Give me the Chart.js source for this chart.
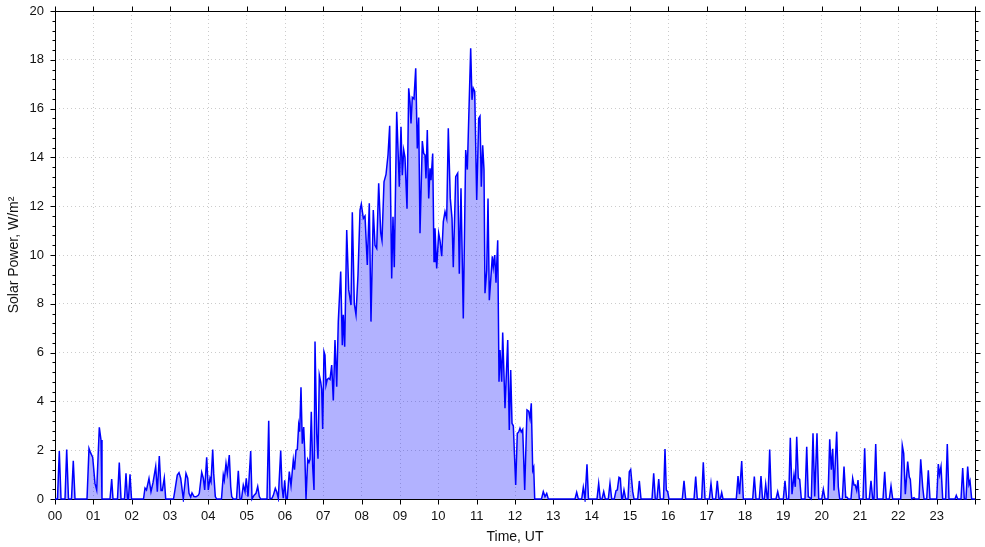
<!DOCTYPE html>
<html>
<head>
<meta charset="utf-8">
<script src="https://cdn.jsdelivr.net/npm/chart.js@4.4.1/dist/chart.umd.min.js"></script>
<style>
html,body{margin:0;padding:0;background:#fff;}
#wrap{width:985px;height:547px;position:relative;}
</style>
</head>
<body>
<div id="wrap"><canvas id="c" width="985" height="547"></canvas></div>
<script>
const hourLabels = ["00","01","02","03","04","05","06","07","08","09","10","11","12","13","14","15","16","17","18","19","20","21","22","23",""];
const yTickValues = [0,2,4,6,8,10,12,14,16,18,20];

const timeHours = [
0.000,0.065,0.112,0.157,0.261,0.305,0.352,0.430,0.477,0.522,0.835,0.887,0.926,0.983,1.043,1.088,1.156,1.200,1.226,
1.435,1.479,1.513,1.630,1.677,1.722,1.813,1.852,1.891,1.917,1.957,1.996,
2.309,2.348,2.387,2.452,2.504,2.557,2.627,2.669,2.721,2.765,2.799,2.851,2.888,
3.091,3.130,3.190,3.235,3.279,3.347,3.417,3.462,3.496,3.540,3.574,3.626,3.678,3.738,3.764,3.827,3.869,3.905,3.957,3.999,
4.043,4.070,4.114,4.140,4.182,4.218,4.343,4.390,4.416,4.461,4.495,4.547,4.584,4.610,4.651,4.735,4.782,4.826,4.865,4.912,4.957,4.990,
5.035,5.105,5.139,5.191,5.243,5.288,5.330,5.366,5.530,5.575,5.609,5.661,5.695,5.747,5.783,5.825,5.888,5.922,5.956,5.992,
6.026,6.060,6.112,6.157,6.217,6.248,6.287,6.321,6.357,6.383,6.417,6.451,6.488,6.514,6.548,6.592,6.626,6.652,6.686,6.723,6.757,6.783,6.827,6.861,6.895,6.931,6.957,6.983,
7.017,7.043,7.070,7.103,7.140,7.174,7.218,7.260,7.304,7.349,7.390,7.453,7.495,7.521,7.557,7.610,7.662,7.722,7.756,7.808,7.852,7.904,7.957,7.991,
8.043,8.087,8.147,8.199,8.243,8.303,8.348,8.392,8.444,8.497,8.530,8.583,8.635,8.687,8.731,8.783,8.817,8.851,8.914,8.982,
9.026,9.060,9.097,9.130,9.183,9.227,9.261,9.287,9.321,9.365,9.410,9.451,9.488,9.522,9.582,9.618,9.652,9.678,9.712,9.749,9.783,9.809,9.853,9.887,9.913,9.957,
10.009,10.043,10.088,10.130,10.174,10.218,10.260,10.312,10.357,10.390,10.453,10.505,10.547,10.591,10.651,10.714,10.756,10.844,10.878,10.912,10.949,
11.001,11.053,11.087,11.121,11.157,11.191,11.217,11.262,11.296,11.330,11.366,11.408,11.434,11.471,11.504,11.549,11.583,11.609,11.653,11.679,11.739,11.810,11.851,11.888,11.922,11.956,
12.018,12.060,12.097,12.130,12.164,12.201,12.253,12.313,12.357,12.391,12.425,12.462,12.488,12.514,12.691,12.738,12.783,12.827,12.869,
13.565,13.609,13.652,13.740,13.782,13.826,13.878,13.917,
14.139,14.183,14.225,14.270,14.314,14.356,14.434,14.478,14.523,14.590,14.635,14.669,14.713,14.747,14.784,14.804,14.843,14.888,14.948,14.982,
15.018,15.071,15.104,15.201,15.243,15.287,15.574,15.618,15.660,15.704,15.749,15.790,15.874,15.913,15.947,15.983,
16.017,16.364,16.409,16.453,16.670,16.714,16.756,16.870,16.912,16.957,
17.069,17.113,17.157,17.235,17.277,17.322,17.356,17.392,17.426,17.773,17.818,17.857,17.914,17.956,
18.201,18.243,18.287,18.373,18.417,18.457,18.504,18.540,18.582,18.600,18.644,18.686,18.809,18.853,18.895,18.999,
19.043,19.088,19.140,19.182,19.226,19.278,19.312,19.349,19.390,19.427,19.469,19.565,19.610,19.651,19.730,19.774,19.818,19.878,19.923,
20.001,20.043,20.087,20.165,20.210,20.252,20.288,20.322,20.392,20.434,20.471,20.539,20.583,20.627,20.661,20.695,20.765,20.809,20.843,20.877,20.914,20.948,20.982,
21.078,21.122,21.164,21.242,21.287,21.331,21.365,21.410,21.451,21.600,21.644,21.686,21.764,21.809,21.853,
22.062,22.103,22.140,22.182,22.244,22.286,22.312,22.349,22.409,22.443,22.539,22.584,22.635,22.670,22.740,22.782,22.826,
23.001,23.043,23.074,23.113,23.157,23.235,23.277,23.322,23.478,23.512,23.549,23.635,23.679,23.721,23.765,23.809,23.843,23.870,23.913,24.000
];

const powerValues = [
0,0,1.97,0,0,2.03,0,0,1.57,0,0,2.07,1.9,1.71,0.64,0.37,2.94,2.42,0,
0,0.82,0,0,1.49,0,0,1.05,0,0,1.01,0,
0,0.45,0.37,0.84,0.3,0.67,1.33,0.3,1.76,0.35,0.35,0.86,0,
0,0.37,0.98,1.08,0.85,0,1.05,0.85,0.23,0.08,0.25,0.1,0.09,0.15,0.23,1.09,0.85,0.37,1.71,0.37,
0.85,0.71,2.03,1.05,0.1,0,0,0.98,0.77,1.46,1.05,1.8,0.5,0.1,0,0,1.16,0,0,0.57,0.3,0.85,
0.1,1.97,0,0.15,0.23,0.51,0.1,0,0,3.21,0,0.03,0.15,0.44,0.3,0.03,1.99,0.5,0.03,0.77,
0.03,0.03,1.12,0.55,1.6,1.2,2.0,2.03,3.03,2.76,4.58,2.27,2.95,2.0,0,1.62,1.5,1.62,3.58,1.3,0.37,6.45,2.68,1.65,5.08,4.8,4.5,2.87,
6.04,5.9,4.67,4.9,4.95,4.9,5.49,4.04,6.52,4.6,7.27,9.32,6.3,7.55,6.24,11.02,8.57,7.95,11.75,8.0,7.55,9.18,11.84,12.09,
11.5,11.6,9.59,12.12,7.27,11.84,10.4,10.27,12.94,10.9,10.6,13.0,13.3,14.1,15.3,9.04,11.57,9.5,15.87,12.8,
15.26,13.27,14.3,14.0,11.9,16.83,16.28,15.39,16.46,16.4,17.65,14.37,15.63,10.89,14.67,14.16,14.1,13.14,15.12,12.32,13.55,13.07,14.16,9.73,11.1,9.45,
10.89,10.6,9.95,11.37,11.78,11.5,15.19,12.32,11.5,9.5,13.21,13.35,9.23,12.73,7.4,14.3,13.5,18.47,16.36,16.83,16.7,
12.25,15.6,15.69,12.8,14.5,13.5,8.43,9.37,12.32,8.15,8.96,9.95,9.5,10.0,8.86,10.6,4.81,6.11,4.81,6.82,3.72,6.52,2.83,5.29,3.1,3.0,
0.57,2.69,2.75,2.9,2.75,2.85,0.37,3.65,3.6,3.3,3.92,1.18,1.3,0,0,0.3,0.1,0.23,0,
0,0.27,0,0,0.48,0,1.42,0,
0,0.64,0,0,0.3,0,0,0.64,0,0,0.34,0.37,0.89,0.85,0,0,0.37,0,0,1.12,
1.21,0.3,0,0,0.74,0,0,1.05,0,0,0.82,0,0,2.05,0.37,0.3,
0,0,0.75,0,0,0.92,0,0,1.5,0,
0,0.64,0,0,0.75,0,0,0.26,0,0,0.94,0.2,1.56,0,
0,0.92,0,0,0.94,0,0,0.6,0,0,2.03,0,0,0.3,0,0,
0.74,0,0,2.51,0.2,0.98,0.5,2.55,0.85,0.8,0,0,2.14,0.1,0,2.69,0.1,2.69,0,
0,0.4,0,0,2.45,1.2,2.06,0.35,2.76,0.5,0,0,1.33,0.07,0.07,0,0,0.85,0.57,0.57,0.35,0.78,0,
0,2.08,0,0,0.75,0,0,2.25,0,0,1.12,0,0,0.53,0,
0,2.2,1.87,0.2,1.53,0.9,0.81,0,0.05,0,0,1.63,0.5,0,0,1.18,0,
0,1.43,1.0,1.33,0,0,2.25,0,0,0.15,0,0,1.27,0,0,1.33,0.6,0.74,0,0
];

const points = timeHours.map((t, i) => ({ x: t, y: powerValues[i] }));

const FONT = "'Liberation Sans', Arial, sans-serif";

const framePlugin = {
  id: 'frameTicks',
  beforeDatasetsDraw(chart) {
    const { ctx, chartArea: a, scales } = chart;
    const xs = scales.x, ys = scales.y;
    const al = v => Math.round(v) + 0.5;
    ctx.save();
    ctx.strokeStyle = '#000';
    ctx.lineWidth = 1;
    ctx.beginPath();
    const L = al(a.left), R = al(a.right), T = al(a.top), B = al(a.bottom);
    ctx.moveTo(L, T); ctx.lineTo(R, T); ctx.lineTo(R, B); ctx.lineTo(L, B); ctx.closePath();
    for (let h = 0; h <= 24; h++) {
      const px = al(xs.getPixelForValue(h));
      ctx.moveTo(px, B); ctx.lineTo(px, B + 5);
      ctx.moveTo(px, T); ctx.lineTo(px, T - 5);
    }
    for (let i = 0; i <= 50; i++) {
      const v = i * 0.4;
      const py = al(ys.getPixelForValue(v));
      const len = (i % 5 === 0) ? 5 : 3;
      ctx.moveTo(L, py); ctx.lineTo(L - len, py);
      ctx.moveTo(R, py); ctx.lineTo(R + len, py);
    }
    ctx.stroke();
    ctx.restore();
  }
};

new Chart(document.getElementById('c'), {
  type: 'line',
  data: {
    datasets: [{
      data: points,
      borderColor: '#0000ff',
      borderWidth: 1.5,
      backgroundColor: 'rgba(0,0,255,0.3)',
      fill: 'origin',
      pointRadius: 0,
      tension: 0,
      clip: 3
    }]
  },
  options: {
    responsive: false,
    animation: false,
    devicePixelRatio: 1,
    layout: { padding: { left: 0, right: 10, top: 11, bottom: 0 } },
    plugins: { legend: { display: false }, tooltip: { enabled: false } },
    scales: {
      x: {
        type: 'linear',
        min: 0, max: 24,
        afterFit(scale) { scale.height = 48; scale.paddingLeft = 0; scale.paddingRight = 0; },
        ticks: {
          stepSize: 1, autoSkip: false, maxRotation: 0, padding: 10,
          color: '#111', font: { family: FONT, size: 13 },
          callback: (v) => hourLabels[v] !== undefined ? hourLabels[v] : ''
        },
        grid: { drawTicks: false, color: 'rgba(0,0,0,0.2)', lineWidth: 1 },
        border: { display: false, dash: [1, 3] },
        title: { display: true, text: 'Time, UT', color: '#111', font: { family: FONT, size: 14 }, padding: { top: 0, bottom: 1 } }
      },
      y: {
        min: 0, max: 20,
        afterFit(scale) { scale.width = 55; scale.paddingTop = 0; scale.paddingBottom = 0; },
        afterBuildTicks(scale) { scale.ticks = yTickValues.map(v => ({ value: v })); },
        ticks: {
          padding: 11, color: '#111', font: { family: FONT, size: 13 },
          callback: (v) => String(v)
        },
        grid: { drawTicks: false, color: 'rgba(0,0,0,0.2)', lineWidth: 1 },
        border: { display: false, dash: [1, 3] },
        title: { display: true, text: 'Solar Power, W/m²', color: '#111', font: { family: FONT, size: 14 }, padding: { top: 6, bottom: 0 } }
      }
    }
  },
  plugins: [framePlugin]
});
</script>
</body>
</html>
